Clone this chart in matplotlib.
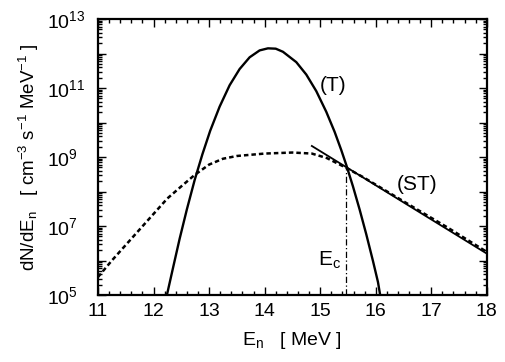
import numpy as np
import matplotlib
matplotlib.use("Agg")
import matplotlib.pyplot as plt
from matplotlib.ticker import MultipleLocator, LogLocator

plt.rcParams['font.family'] = ['Liberation Sans', 'DejaVu Sans']
plt.rcParams['mathtext.fontset'] = 'custom'
plt.rcParams['mathtext.rm'] = 'Liberation Sans'
plt.rcParams['mathtext.it'] = 'Liberation Sans'

# thermal spectrum (T): energy [MeV], log10 dN/dE
t_energy = [12.22, 12.35, 12.47, 12.60, 12.74, 12.88, 13.02, 13.19, 13.37, 13.55,
            13.73, 13.91, 14.06, 14.20, 14.33, 14.57, 14.75, 14.93, 15.11, 15.26,
            15.38, 15.47, 15.59, 15.71, 15.83, 15.95, 16.04, 16.10]
t_logval = [4.85, 5.78, 6.63, 7.48, 8.33, 9.08, 9.76, 10.46, 11.08, 11.55,
            11.89, 12.09, 12.15, 12.14, 12.05, 11.75, 11.39, 10.91, 10.31, 9.73,
            9.20, 8.77, 8.15, 7.48, 6.76, 5.99, 5.38, 4.81]

# suprathermal spectrum (ST)
st_energy = [11.00, 11.25, 11.50, 11.75, 12.00, 12.25, 12.50, 12.74, 13.00, 13.25,
             13.50, 14.00, 14.50, 14.85, 15.12, 15.44, 15.77, 16.61, 17.28, 18.00]
st_logval = [5.52, 6.00, 6.45, 6.90, 7.35, 7.80, 8.15, 8.48, 8.78, 8.95,
             9.03, 9.10, 9.13, 9.10, 8.97, 8.71, 8.42, 7.61, 6.97, 6.25]

# exponential fit of the ST tail
fit_energy = [14.85, 18.00]
fit_logval = [9.32, 6.20]

e_cut = 15.47
e_cut_top = 8.75

fig = plt.figure(figsize=(5.05, 3.62), dpi=100)
ax = fig.add_axes([0.194, 0.185, 0.770, 0.7625])

ax.plot(t_energy, 10 ** np.array(t_logval), color='black', lw=1.7)
ax.plot(st_energy, 10 ** np.array(st_logval), color='black', lw=1.8,
        linestyle=(0, (1.8, 1.2)))
ax.plot(fit_energy, 10 ** np.array(fit_logval), color='black', lw=1.3)
ax.plot([e_cut, e_cut], [1e5, 10 ** e_cut_top], color='black', lw=0.9,
        linestyle=(0, (5, 2, 1, 2)))

ax.text(15.23, 10 ** 11.06, '(T)', fontsize=15, ha='center', va='center')
ax.text(16.74, 10 ** 8.19, '(ST)', fontsize=15, ha='center', va='center')
ax.text(15.38, 10 ** 6.0, r'E$_\mathregular{c}$', fontsize=15, ha='right', va='center')

ax.set_yscale('log')
ax.set_xlim(11, 18)
ax.set_ylim(1e5, 1e13)
ax.xaxis.set_major_locator(MultipleLocator(1))
ax.xaxis.set_minor_locator(MultipleLocator(0.2))
ax.set_yticks([10.0 ** k for k in range(5, 14)])
ax.set_yticklabels([r'$\mathregular{10^{%d}}$' % k if k % 2 == 1 else '' for k in range(5, 14)])
ax.yaxis.set_minor_locator(LogLocator(base=10, subs=np.arange(2, 10), numticks=20))
ax.yaxis.set_minor_formatter(plt.NullFormatter())

ax.tick_params(which='both', direction='in', top=True, right=True, labelsize=14, width=1.0)
ax.tick_params(which='major', length=6)
ax.tick_params(which='minor', length=3)
ax.tick_params(axis='x', pad=6)
ax.tick_params(axis='y', pad=37)
for lbl in ax.get_yticklabels():
    lbl.set_horizontalalignment('left')
for s in ax.spines.values():
    s.set_linewidth(1.6)

ax.set_xlabel(r'E$_\mathregular{n}$   [ MeV ]', fontsize=14, labelpad=7)
ax.set_ylabel(r'dN/dE$_\mathregular{n}$   [ cm$^\mathregular{-3}$ s$^\mathregular{-1}$ MeV$^\mathregular{-1}$ ]',
              fontsize=13.5, labelpad=4)

fig.savefig('out.png', dpi=100)
